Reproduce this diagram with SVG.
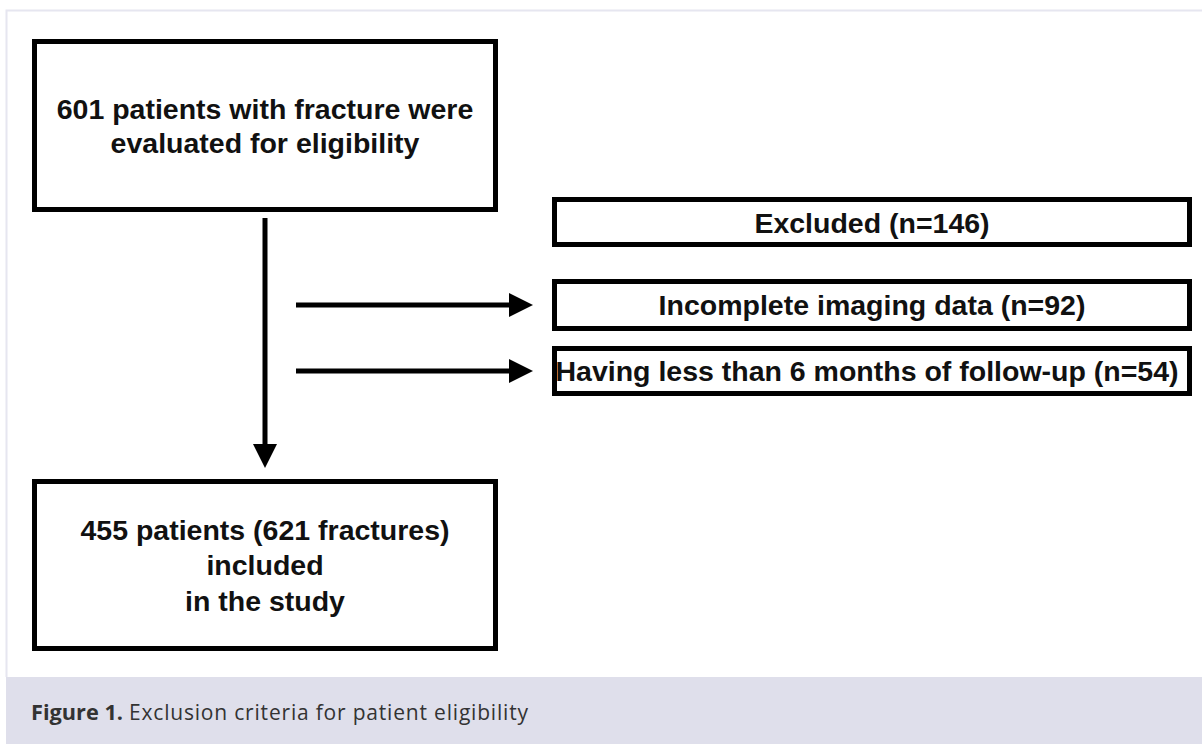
<svg xmlns="http://www.w3.org/2000/svg" width="1202" height="744" viewBox="0 0 1202 744">
  <style>
    .box { fill: #ffffff; stroke: #000000; stroke-width: 5; }
    .lbl { font-family: "Liberation Sans", Arial, Helvetica, sans-serif; font-size: 28.5px; font-weight: bold; fill: #111111; text-anchor: middle; }
    .conn { stroke: #000000; stroke-width: 5; fill: none; }
    .head { fill: #000000; }
    .cap { font-family: "Open Sans", "Noto Sans", sans-serif; font-size: 21px; fill: #333333; }
  </style>
  <rect x="0" y="0" width="1202" height="744" fill="#ffffff"/>
  <!-- frame -->
  <path d="M 6.5 677 L 6.5 10.5 L 1202 10.5" fill="none" stroke="#e6e6f0" stroke-width="2"/>
  <rect x="6" y="677" width="1196" height="67" fill="#dfdfeb"/>

  <g id="connectors">
    <line class="conn" x1="265" y1="218" x2="265" y2="446"/>
    <polygon class="head" points="253,444 277,444 265,468"/>
    <line class="conn" x1="296" y1="305" x2="511" y2="305"/>
    <polygon class="head" points="509,293 509,317 533,305"/>
    <line class="conn" x1="296" y1="371" x2="511" y2="371"/>
    <polygon class="head" points="509,359 509,383 533,371"/>
  </g>

  <g id="node-evaluated">
    <rect class="box" x="34.5" y="41.5" width="461" height="168"/>
    <text class="lbl" x="265" y="119">601 patients with fracture were</text>
    <text class="lbl" x="265" y="153">evaluated for eligibility</text>
  </g>

  <g id="node-excluded">
    <rect class="box" x="554.5" y="199.5" width="635" height="45"/>
    <text class="lbl" x="872" y="233">Excluded (n=146)</text>
  </g>

  <g id="node-imaging">
    <rect class="box" x="554.5" y="281.5" width="635" height="47"/>
    <text class="lbl" x="872" y="315">Incomplete imaging data (n=92)</text>
  </g>

  <g id="node-followup">
    <rect class="box" x="554.5" y="348.5" width="635" height="45"/>
    <text class="lbl" x="867" y="381">Having less than 6 months of follow-up (n=54)</text>
  </g>

  <g id="node-included">
    <rect class="box" x="34.5" y="481.5" width="461" height="167"/>
    <text class="lbl" x="265" y="540">455 patients (621 fractures)</text>
    <text class="lbl" x="265" y="575">included</text>
    <text class="lbl" x="265" y="611">in the study</text>
  </g>

  <g id="caption">
    <text class="cap" x="31" y="720" font-weight="bold" textLength="92" lengthAdjust="spacingAndGlyphs">Figure 1.</text>
    <text class="cap" x="129" y="720" textLength="399" lengthAdjust="spacing">Exclusion criteria for patient eligibility</text>
  </g>
</svg>
